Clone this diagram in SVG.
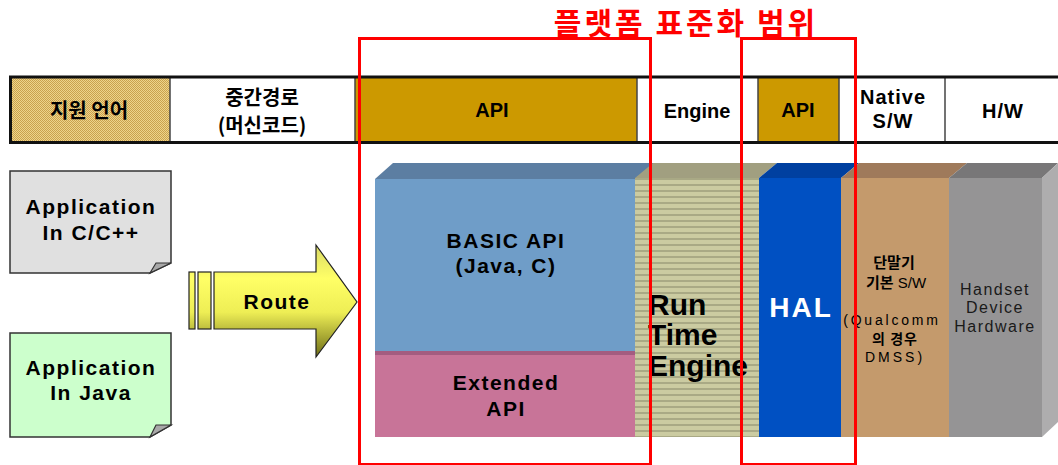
<svg xmlns="http://www.w3.org/2000/svg" width="1058" height="465" viewBox="0 0 1058 465">
  <defs>
    <pattern id="dither" width="2" height="2" patternUnits="userSpaceOnUse">
      <rect width="2" height="2" fill="#EED48A"/>
      <rect width="1" height="1" fill="#C9A14E"/>
      <rect x="1" y="1" width="1" height="1" fill="#C9A14E"/>
    </pattern>
    <pattern id="stripes" width="6" height="6" patternUnits="userSpaceOnUse">
      <rect width="6" height="6" fill="#CBCBA1"/>
      <rect y="4" width="6" height="2" fill="#A9A985"/>
    </pattern>
    <linearGradient id="routeFill" x1="0" y1="245" x2="0" y2="357" gradientUnits="userSpaceOnUse">
      <stop offset="0" stop-color="#DADA66"/>
      <stop offset="0.3" stop-color="#FFFF66"/>
      <stop offset="0.6" stop-color="#EEEE55"/>
      <stop offset="1" stop-color="#6E6E18"/>
    </linearGradient>
    <style>
      text { font-family: "Liberation Sans", "Noto Sans CJK KR", Arial, sans-serif; fill: #000; }
      .kr { font-family: "Noto Sans CJK KR", "Liberation Sans", sans-serif; font-weight: bold; }
      .hdr { font-size: 20px; font-weight: bold; text-anchor: middle; }
      .cell { stroke: none; }
      .div { stroke: #444; stroke-width: 1.5; }
      .note { stroke: #333; stroke-width: 1.5; }
      .fold { stroke: #333; stroke-width: 1.2; fill: #A8A8A8; }
      .lbl { font-size: 21px; font-weight: bold; text-anchor: middle; letter-spacing: 1.5px; }
      .scope { fill: none; stroke: #FF0000; stroke-width: 3; }
    </style>
  </defs>

  <rect width="1058" height="465" fill="#FFFFFF"/>

  <!-- header row -->
  <g id="header">
    <g id="hdr-lang">
      <rect class="cell" x="10" y="77" width="160" height="65" fill="url(#dither)"/>
      <text class="hdr kr" x="89" y="118" font-size="21">지원 언어</text>
    </g>
    <g id="hdr-route">
      <rect class="cell" x="170" y="77" width="185" height="65" fill="#FFFFFF"/>
      <text class="hdr kr" x="262" y="105" font-size="21">중간경로</text>
      <text class="hdr kr" x="262" y="133" font-size="21">(머신코드)</text>
    </g>
    <g id="hdr-api">
      <rect class="cell" x="355" y="77" width="282" height="65" fill="#CC9900"/>
      <text class="hdr" x="492" y="117">API</text>
    </g>
    <g id="hdr-engine">
      <rect class="cell" x="637" y="77" width="121" height="65" fill="#FFFFFF"/>
      <text class="hdr" x="697" y="118" font-size="22" font-weight="normal">Engine</text>
    </g>
    <g id="hdr-api2">
      <rect class="cell" x="758" y="77" width="81" height="65" fill="#CC9900"/>
      <text class="hdr" x="798" y="117">API</text>
    </g>
    <g id="hdr-native">
      <rect class="cell" x="839" y="77" width="106" height="65" fill="#FFFFFF"/>
      <text class="hdr" x="893" y="104" font-size="14" letter-spacing="1">Native</text>
      <text class="hdr" x="893" y="128" font-size="14" letter-spacing="1">S/W</text>
    </g>
    <g id="hdr-hw">
      <rect class="cell" x="945" y="77" width="113" height="65" fill="#FFFFFF"/>
      <text class="hdr" x="1003" y="118" font-size="22" letter-spacing="1">H/W</text>
    </g>
    <line class="div" x1="170" y1="77" x2="170" y2="142"/>
    <line class="div" x1="355" y1="77" x2="355" y2="142"/>
    <line class="div" x1="637" y1="77" x2="637" y2="142"/>
    <line class="div" x1="758" y1="77" x2="758" y2="142"/>
    <line class="div" x1="839" y1="77" x2="839" y2="142"/>
    <line class="div" x1="945" y1="77" x2="945" y2="142"/>
    <line x1="9" y1="77" x2="1058" y2="77" stroke="#111" stroke-width="3"/>
    <line x1="9" y1="142.5" x2="1058" y2="142.5" stroke="#111" stroke-width="3"/>
    <line x1="10.5" y1="76" x2="10.5" y2="144" stroke="#111" stroke-width="3"/>
  </g>

  <!-- application notes -->
  <g id="app-c">
    <path class="note" d="M10,171 H171 V263 L150,273 H10 Z" fill="#E0E0E0"/>
    <path class="fold" d="M150,273 L156,263 H171 Z"/>
    <text class="lbl" x="91" y="214">Application</text>
    <text class="lbl" x="91" y="240">In C/C++</text>
  </g>
  <g id="app-java">
    <path class="note" d="M10,333 H171 V425 L150,437 H10 Z" fill="#CCFFCC"/>
    <path class="fold" d="M150,437 L156,425 H171 Z" fill="#A0BCA0"/>
    <text class="lbl" x="91" y="375">Application</text>
    <text class="lbl" x="91" y="400">In Java</text>
  </g>

  <!-- route arrow -->
  <g id="route">
    <rect x="189" y="272" width="6" height="57" fill="url(#routeFill)" stroke="#222" stroke-width="1.2"/>
    <rect x="198" y="272" width="13" height="57" fill="url(#routeFill)" stroke="#222" stroke-width="1.2"/>
    <path d="M214,272 H316 V245 L357,302 L316,357 V329 H214 Z" fill="url(#routeFill)" stroke="#222" stroke-width="1.2"/>
    <text class="lbl" x="277" y="309">Route</text>
  </g>

  <!-- layered platform blocks -->
  <g id="basic-api">
    <path d="M375,179 L393,163 H654 L636,179 Z" fill="#5C7EA2"/>
    <rect x="375" y="179" width="261" height="172" fill="#6F9DC8"/>
    <text class="lbl" x="506" y="248" letter-spacing="1">BASIC API</text>
    <text class="lbl" x="506" y="273" letter-spacing="1">(Java, C)</text>
  </g>
  <g id="extended-api">
    <rect x="375" y="351" width="261" height="86" fill="#C87498"/>
    <rect x="375" y="351" width="261" height="4" fill="#A45C80"/>
    <text class="lbl" x="506" y="390" letter-spacing="2">Extended</text>
    <text class="lbl" x="506" y="416" letter-spacing="2">API</text>
  </g>
  <g id="runtime-engine">
    <path d="M635,178 L653,163 H777 L759,178 Z" fill="#A19F80"/>
    <rect x="635" y="178" width="124" height="259" fill="url(#stripes)"/>
    <text x="648" y="315" font-size="30" font-weight="bold">Run</text>
    <text x="648" y="345" font-size="30" font-weight="bold">Time</text>
    <text x="648" y="376" font-size="30" font-weight="bold">Engine</text>
  </g>
  <g id="hal">
    <path d="M759,178 L777,163 H859 L841,178 Z" fill="#0040A0"/>
    <rect x="759" y="178" width="82" height="259" fill="#0050C2"/>
    <text x="801" y="317" font-size="28" font-weight="bold" text-anchor="middle" letter-spacing="2" style="fill:#FFFFFF">HAL</text>
  </g>
  <g id="native-sw">
    <path d="M841,178 L859,163 H967 L949,178 Z" fill="#9F7A5B"/>
    <rect x="841" y="178" width="108" height="259" fill="#C49A6C"/>
    <text class="kr" x="894" y="268" font-size="15" text-anchor="middle">단말기</text>
    <text x="896" y="288" font-size="15" text-anchor="middle"><tspan class="kr">기본</tspan> S/W</text>
    <text x="892" y="325" font-size="14" text-anchor="middle" letter-spacing="2.8">(Qualcomm</text>
    <text class="kr" x="895" y="344" font-size="14" text-anchor="middle" letter-spacing="1">의 경우</text>
    <text x="895" y="362" font-size="14" text-anchor="middle" letter-spacing="3">DMSS)</text>
  </g>
  <g id="handset-hw">
    <path d="M949,178 L967,163 H1058 L1042,178 Z" fill="#787778"/>
    <rect x="949" y="178" width="93" height="259" fill="#959495"/>
    <path d="M1042,178 L1058,163 V422 L1042,437 Z" fill="#AEADAE"/>
    <text x="995" y="295" font-size="16" text-anchor="middle" letter-spacing="1.5" style="fill:#1A1A1A">Handset</text>
    <text x="995" y="313" font-size="16" text-anchor="middle" letter-spacing="1.5" style="fill:#1A1A1A">Device</text>
    <text x="995" y="332" font-size="16" text-anchor="middle" letter-spacing="1.5" style="fill:#1A1A1A">Hardware</text>
  </g>

  <!-- platform standardisation scope -->
  <g id="scope">
    <rect class="scope" x="359.5" y="38.5" width="291" height="426"/>
    <rect class="scope" x="741.5" y="38.5" width="114" height="426"/>
    <text class="kr" x="686" y="34" font-size="30" text-anchor="middle" letter-spacing="3" style="fill:#FF0000">플랫폼 표준화 범위</text>
  </g>

  <g id="connectors"/>
</svg>
